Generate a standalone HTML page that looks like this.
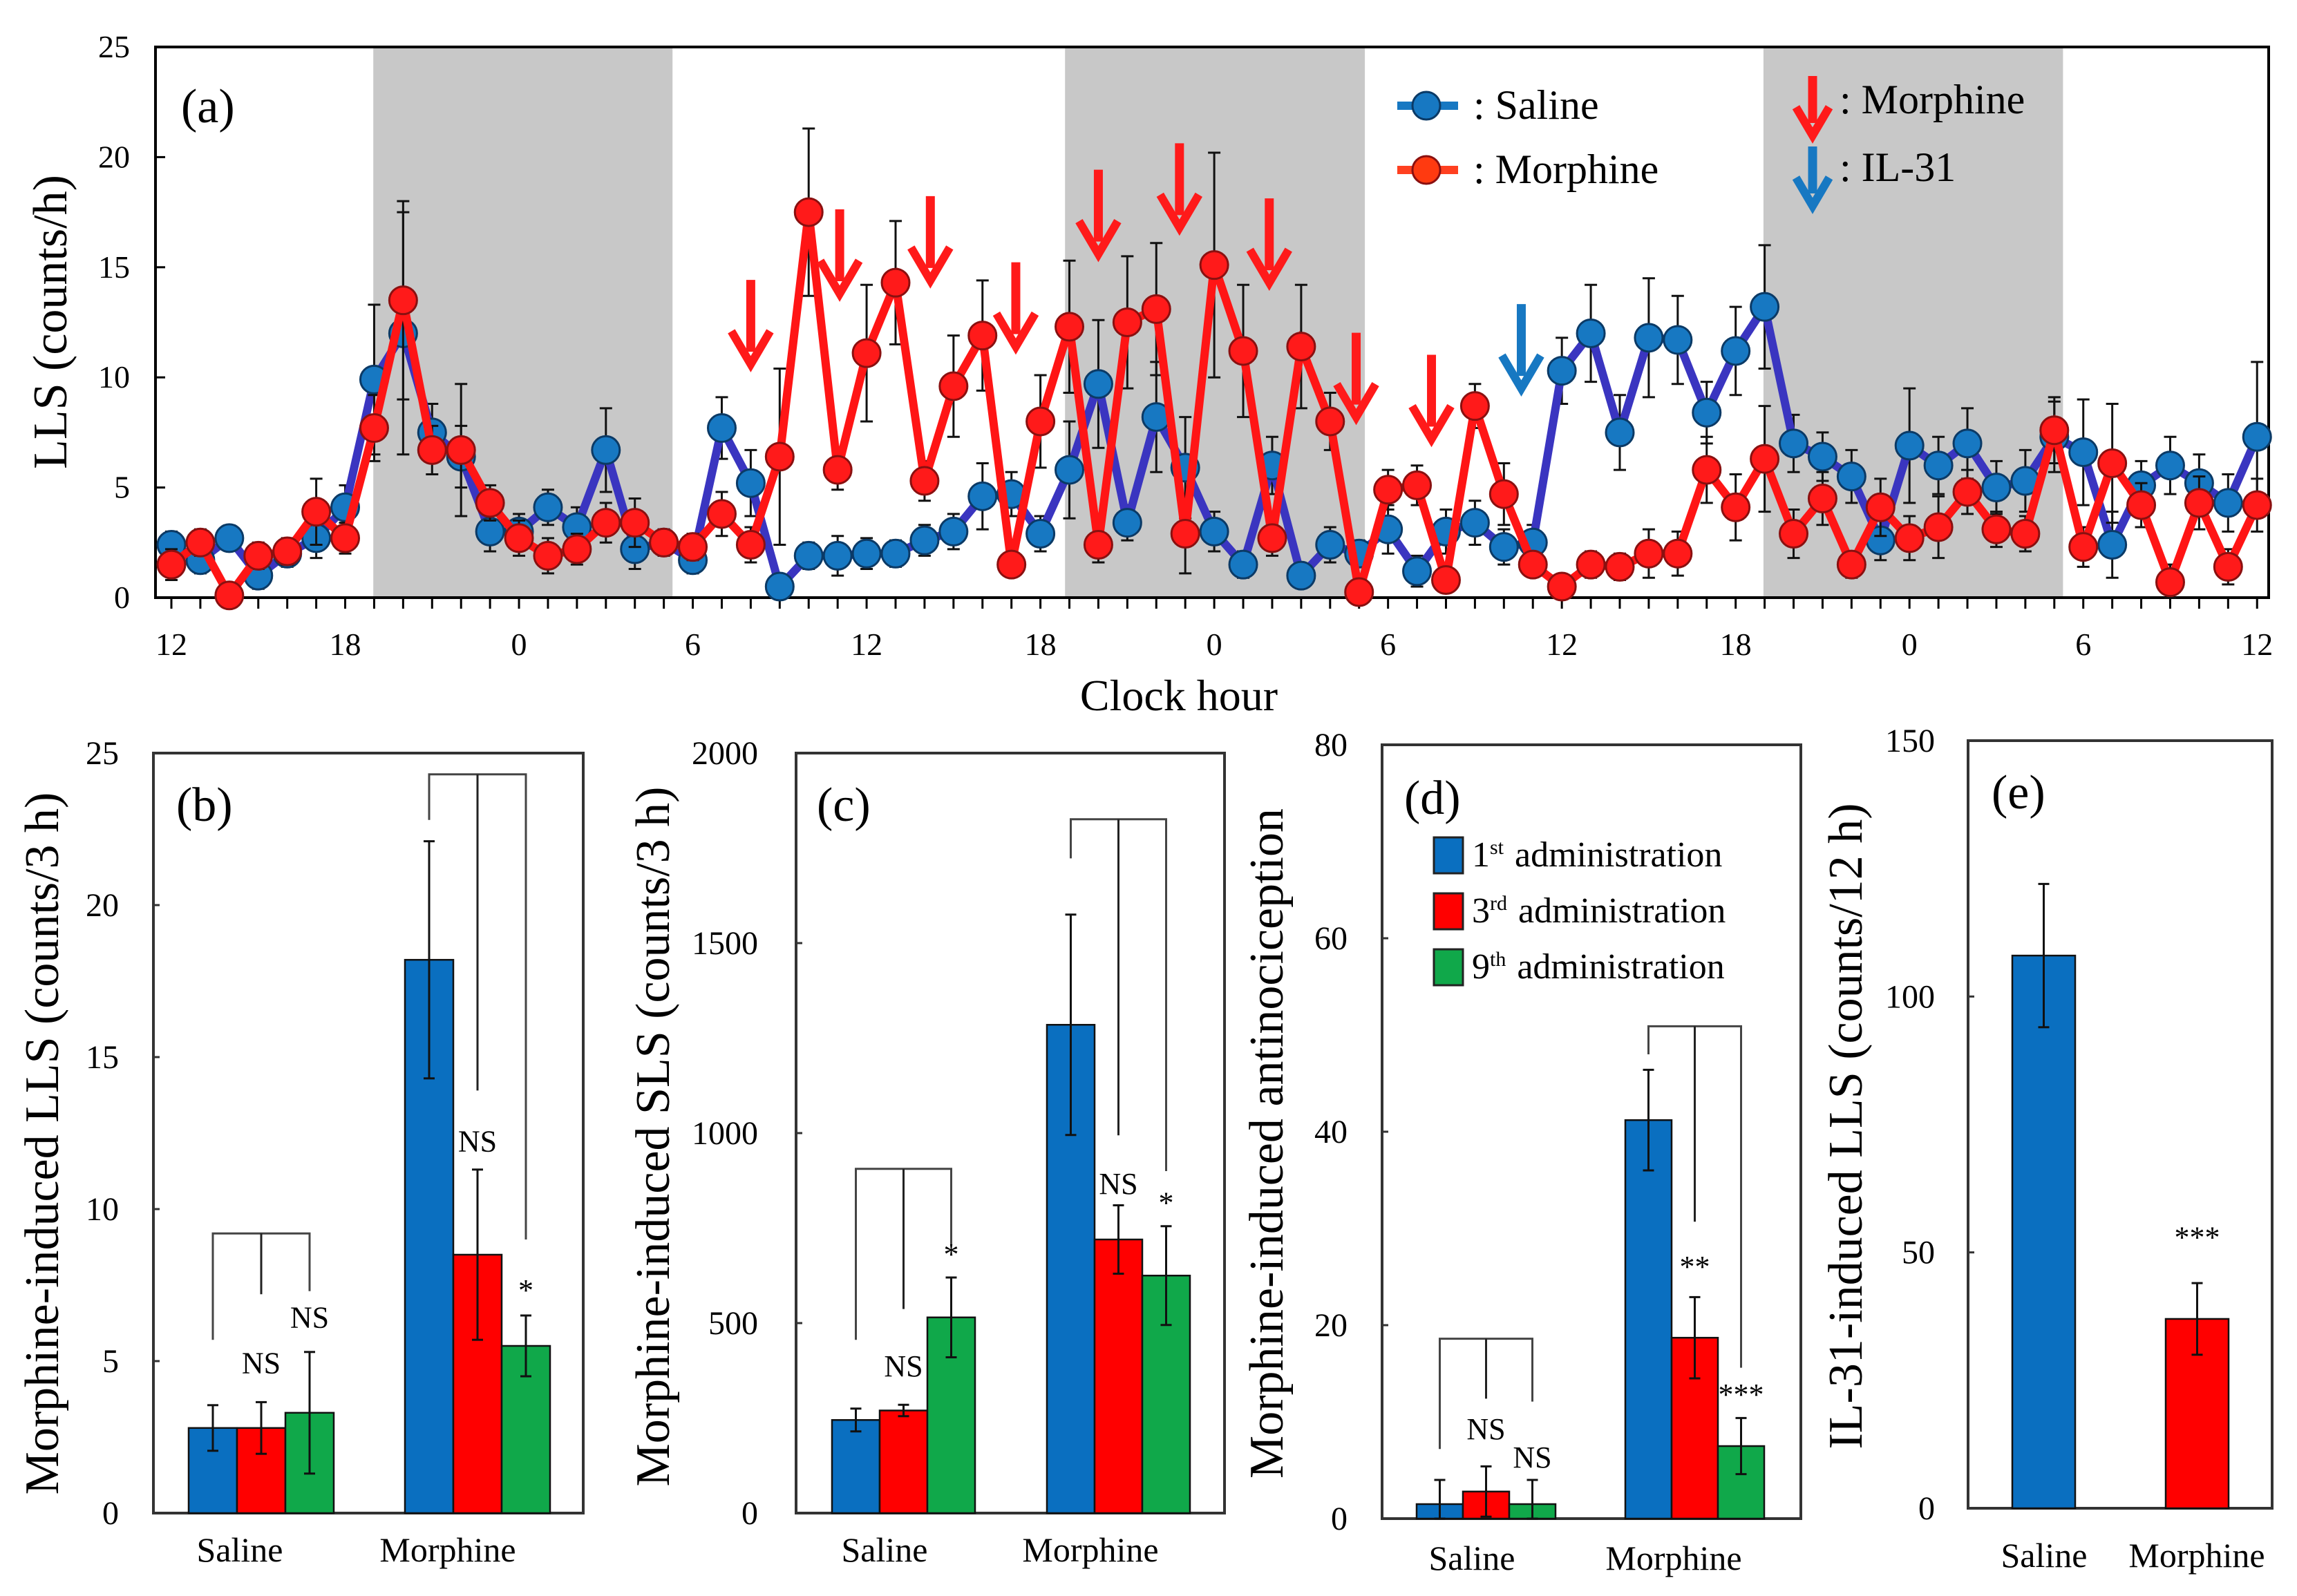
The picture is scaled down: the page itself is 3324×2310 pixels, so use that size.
<!DOCTYPE html>
<html><head><meta charset="utf-8"><style>
html,body{margin:0;padding:0;background:#fff;}
svg{display:block;font-family:"Liberation Serif",serif;}
</style></head><body>
<svg id="fig" width="3324" height="2310" viewBox="0 0 3324 2310" xmlns="http://www.w3.org/2000/svg">
<rect x="0" y="0" width="3324" height="2310" fill="#fff"/>
<g id="panelA"></g>
<g id="panelB"></g>
<g id="panelC"></g>
<g id="panelD"></g>
<g id="panelE"></g>
</svg>
<script>
// ---------- Panel (a) data ----------
const hourTickLabels = ["12","18","0","6","12","18","0","6","12","18","0","6","12"];
const yTicksA = [0,5,10,15,20,25];
const salineLLS = [2.4,1.7,2.7,1.0,2.0,2.7,4.1,9.9,12.0,7.5,6.4,3.0,3.0,4.1,3.2,6.7,2.2,2.5,1.7,7.7,5.2,0.5,1.9,1.9,2.0,2.0,2.6,3.0,4.6,4.7,2.9,5.8,9.7,3.4,8.2,5.9,3.0,1.5,6.0,1.0,2.4,2.0,3.1,1.2,3.0,3.4,2.3,2.5,10.3,12.0,7.5,11.8,11.7,8.4,11.2,13.2,7.0,6.4,5.5,2.6,6.9,6.0,7.0,5.0,5.3,7.3,6.6,2.4,5.1,6.0,5.2,4.3,7.3];
const salineErr = [0.6,0.6,0.5,0.6,0.6,0.9,1.0,3.4,5.5,1.3,1.4,0.9,0.8,0.8,0.9,1.9,0.9,0.6,0.6,1.4,1.5,0.4,0.6,0.9,0.7,0.6,0.7,0.8,1.5,1.0,0.8,2.2,2.9,0.8,2.5,2.3,0.9,0.6,1.3,0.5,0.8,0.6,1.1,0.7,1.0,1.0,0.8,0.8,1.5,2.2,1.7,2.7,2.0,1.4,2.0,2.8,1.3,1.1,1.2,0.9,2.6,1.3,1.6,1.2,1.4,1.6,2.4,1.5,1.1,1.3,1.3,1.3,3.4];
const morphineLLS = [1.5,2.5,0.1,1.9,2.1,3.9,2.7,7.7,13.5,6.7,6.7,4.3,2.7,1.9,2.2,3.4,3.4,2.5,2.3,3.8,2.4,6.4,17.5,5.8,11.1,14.3,5.3,9.6,11.9,1.5,8.0,12.3,2.4,12.5,13.1,2.9,15.1,11.2,2.7,11.4,8.0,0.25,4.9,5.1,0.8,8.7,4.7,1.5,0.5,1.5,1.4,2.0,2.0,5.8,4.1,6.3,2.9,4.5,1.5,4.1,2.7,3.2,4.8,3.1,2.9,7.6,2.3,6.1,4.2,0.7,4.3,1.4,4.2];
const morphineErr = [0.7,0.6,0.3,0.6,0.6,1.5,0.7,1.5,4.5,1.1,3.0,0.8,0.8,0.8,0.7,0.9,1.1,0.5,0.6,1.0,0.8,4.0,3.8,0.9,3.1,2.8,0.9,2.3,2.5,0.4,2.1,3.0,0.8,3.0,3.0,1.8,5.1,3.0,0.8,2.8,1.3,0.5,0.9,0.9,0.5,1.0,1.4,0.5,0.5,0.6,0.6,1.1,1.0,1.5,1.5,2.4,1.1,1.2,0.6,1.3,1.0,1.4,1.0,0.8,0.8,1.5,0.9,2.7,1.0,0.8,1.2,0.8,1.2];
const darkBandsStart = [6.97,30.85,54.96];
const darkBandsEnd = [17.3,41.2,65.3];
const morphineArrowHours = [20.0,23.07,26.2,29.15,32.0,34.8,37.9,40.9,43.5];
const morphineArrowTips = [10.6,13.8,14.4,11.4,15.6,16.8,14.3,8.2,7.2];
const il31ArrowHours = [46.6];
const il31ArrowTips = [9.5];

// ---------- Panel (b) ----------
const groups = ["Saline","Morphine"];
const bSaline = [2.8,2.8,3.3], bSalineErr = [0.75,0.85,2.0];
const bMorphine = [18.2,8.5,5.5], bMorphineErr = [3.9,2.8,1.0];
const bTicks = [0,5,10,15,20,25];
// ---------- Panel (c) ----------
const cSaline = [245,270,515], cSalineErr = [30,15,105];
const cMorphine = [1285,720,625], cMorphineErr = [290,90,130];
const cTicks = [0,500,1000,1500,2000];
// ---------- Panel (d) ----------
const dSaline = [1.5,2.8,1.5], dSalineErr = [2.5,2.6,2.5];
const dMorphine = [41.2,18.7,7.5], dMorphineErr = [5.2,4.2,2.9];
const dTicks = [0,20,40,60,80];
// ---------- Panel (e) ----------
const eValues = [108,37], eErr = [14,7];
const eTicks = [0,50,100,150];

const NS = "http://www.w3.org/2000/svg";
function mk(parent, tag, attrs, txt){
  const e = document.createElementNS(NS, tag);
  for (const k in attrs) e.setAttribute(k, attrs[k]);
  if (txt !== undefined) e.textContent = txt;
  parent.appendChild(e);
  return e;
}
const BLUE="#0a6fc0", RED="#ff0000", GREEN="#10a84a";

// ================= Panel A =================
(function(){
  const g = document.getElementById('panelA');
  const X0=225, X1=3283, Y0=68, Y1=865;
  const xa = i => 248 + i*41.92;
  const ya = v => Y1 - v*(Y1-Y0)/25;
  for (let k=0;k<darkBandsStart.length;k++){
    const r = mk(g,'rect',{x:xa(darkBandsStart[k]),y:Y0,width:xa(darkBandsEnd[k])-xa(darkBandsStart[k]),height:Y1-Y0,fill:"#c8c8c8"});
    
    
  }
  const frame = mk(g,'rect',{x:X0,y:Y0,width:X1-X0,height:Y1-Y0,fill:"none",stroke:"#000","stroke-width":4});
  
  
  yTicksA.forEach(v=>{
    mk(g,'line',{x1:X0,x2:X0+14,y1:ya(v),y2:ya(v),stroke:"#000","stroke-width":3});
    const t = mk(g,'text',{x:188,y:ya(v)+15,"text-anchor":"end","font-size":46},String(v));
    
    
  });
  for (let i=0;i<=72;i++){
    mk(g,'line',{x1:xa(i),x2:xa(i),y1:Y1,y2:Y1+16,stroke:"#000","stroke-width":3});
  }
  hourTickLabels.forEach((lab,k)=>{
    const t = mk(g,'text',{x:xa(k*6),y:948,"text-anchor":"middle","font-size":46},lab);
    
    
  });
  const xt = mk(g,'text',{x:1706,y:1028,"text-anchor":"middle","font-size":64},"Clock hour");
  
  
  const yt = mk(g,'text',{x:0,y:0,"text-anchor":"middle","font-size":70,transform:"translate(96,466) rotate(-90)"},"LLS (counts/h)");
  
  
  const pl = mk(g,'text',{x:262,y:177,"font-size":70},"(a)");
  
  

  function series(vals, errs, lineCol, fill, edge, name){
    const sg = mk(g,'g',{});
    
    
    vals.forEach((v,i)=>{
      const x=xa(i), e=errs[i];
      mk(sg,'line',{x1:x,x2:x,y1:ya(v+e),y2:ya(Math.max(0,v-e)),stroke:"#111","stroke-width":3});
      mk(sg,'line',{x1:x-9,x2:x+9,y1:ya(v+e),y2:ya(v+e),stroke:"#111","stroke-width":3});
      mk(sg,'line',{x1:x-9,x2:x+9,y1:ya(Math.max(0,v-e)),y2:ya(Math.max(0,v-e)),stroke:"#111","stroke-width":3});
    });
    mk(sg,'polyline',{points:vals.map((v,i)=>xa(i)+","+ya(v)).join(" "),fill:"none",stroke:lineCol,"stroke-width":12,"stroke-linejoin":"miter"});
    vals.forEach((v,i)=>{
      const c = mk(sg,'circle',{cx:xa(i),cy:ya(v),r:20,fill:fill,stroke:edge,"stroke-width":3});
      
      
    });
  }
  series(salineLLS, salineErr, "#3a35c0", "#1778c2", "#0b3a66", "saline-series");
  series(morphineLLS, morphineErr, "#ff1515", "#ff1a1a", "#8a1010", "morphine-series");

  function arrow(x, tipY, col, name, len, hw){
    len = len||122; hw = hw||28;
    const a = mk(g,'g',{});
    
    
    mk(a,'line',{x1:x,x2:x,y1:tipY-len,y2:tipY-18,stroke:col,"stroke-width":13});
    mk(a,'polyline',{points:(x-hw)+","+(tipY-hw*1.7)+" "+x+","+tipY+" "+(x+hw)+","+(tipY-hw*1.7),fill:"none",stroke:col,"stroke-width":12});
  }
  morphineArrowHours.forEach((h,k)=>arrow(xa(h), ya(morphineArrowTips[k]), "#ff1a1a", "morphine-arrow"));
  il31ArrowHours.forEach((h,k)=>arrow(xa(h), ya(il31ArrowTips[k]), "#1778c2", "il31-arrow"));

  // legend
  const lg = mk(g,'g',{});
  
  
  mk(lg,'line',{x1:2022,x2:2110,y1:153,y2:153,stroke:"#1778c2","stroke-width":12});
  mk(lg,'circle',{cx:2064,cy:153,r:20,fill:"#1778c2",stroke:"#0b3a66","stroke-width":3});
  const l1 = mk(lg,'text',{x:2132,y:172,"font-size":60},": Saline");
  
  
  mk(lg,'line',{x1:2022,x2:2110,y1:246,y2:246,stroke:"#ff4020","stroke-width":12});
  mk(lg,'circle',{cx:2064,cy:246,r:20,fill:"#ff3a10",stroke:"#8a1010","stroke-width":3});
  const l2 = mk(lg,'text',{x:2132,y:265,"font-size":60},": Morphine");
  
  
  arrow(2623, 196, "#ff1a1a", "legend-morphine-arrow", 86, 24);
  const l3 = mk(lg,'text',{x:2662,y:164,"font-size":60},": Morphine");
  
  
  arrow(2623, 298, "#1778c2", "legend-il31-arrow", 86, 24);
  const l4 = mk(lg,'text',{x:2662,y:262,"font-size":60},": IL-31");
  
  
})();

// ================= Bar panels =================
function barPanel(cfg){
  const g = document.getElementById(cfg.id);
  const {X0,X1,Y0,Y1,max} = cfg;
  const y = v => Y1 - v*(Y1-Y0)/max;
  const fr = mk(g,'rect',{x:X0,y:Y0,width:X1-X0,height:Y1-Y0,fill:"none",stroke:"#333","stroke-width":4});
  
  
  cfg.ticks.forEach(v=>{
    mk(g,'line',{x1:X0,x2:X0+9,y1:y(v),y2:y(v),stroke:"#333","stroke-width":3});
    const t = mk(g,'text',{x:cfg.tickX,y:y(v)+16,"text-anchor":"end","font-size":48},String(v));
    
    
  });
  const tt = mk(g,'text',{x:0,y:0,"text-anchor":"middle","font-size":cfg.titleSize||70,transform:"translate("+cfg.titleX+","+cfg.titleY+") rotate(-90)"},cfg.title);
  
  
  const pl = mk(g,'text',{x:cfg.labelX,y:cfg.labelY,"font-size":70},cfg.label);
  
  
  cfg.groups.forEach((grp,gi)=>{
    const centers=[];
    grp.vals.forEach((v,k)=>{
      const x = grp.x + k*cfg.bw;
      centers.push(x+cfg.bw/2);
      const r = mk(g,'rect',{x:x,y:y(v),width:cfg.bw,height:y(0)-y(v),fill:grp.colors[k],stroke:"#111","stroke-width":2.5});
      
      
      const e = grp.errs[k], cx = x+cfg.bw/2;
      mk(g,'line',{x1:cx,x2:cx,y1:y(v+e),y2:y(Math.max(0,v-e)),stroke:"#111","stroke-width":3});
      mk(g,'line',{x1:cx-8,x2:cx+8,y1:y(v+e),y2:y(v+e),stroke:"#111","stroke-width":3});
      mk(g,'line',{x1:cx-8,x2:cx+8,y1:y(Math.max(0,v-e)),y2:y(Math.max(0,v-e)),stroke:"#111","stroke-width":3});
    });
    if (grp.bracket){
      const b = grp.bracket;
      mk(g,'polyline',{points:centers[0]+","+y(b.legs[0])+" "+centers[0]+","+y(b.top)+" "+centers[centers.length-1]+","+y(b.top)+" "+centers[centers.length-1]+","+y(b.legs[2]),fill:"none",stroke:"#444","stroke-width":3});
      mk(g,'line',{x1:centers[1],x2:centers[1],y1:y(b.top),y2:y(b.legs[1]),stroke:"#222","stroke-width":3});
    }
    (grp.notes||[]).forEach(n=>{
      const t = mk(g,'text',{x:centers[n.bar],y:y(n.at),"text-anchor":"middle","font-size":44},n.text);
      
      
    });
    const cl = mk(g,'text',{x:grp.labelX,y:cfg.catY,"text-anchor":"middle","font-size":50},grp.name);
    
    
  });
}
const three=[BLUE,RED,GREEN];
barPanel({id:'panelB',key:'b',X0:222,X1:844,Y0:1090,Y1:2190,max:25,ticks:bTicks,tickX:172,
  title:"Morphine-induced LLS (counts/3 h)",titleX:84,titleY:1655,label:"(b)",labelX:255,labelY:1188,bw:70,catY:2260,
  groups:[
    {name:groups[0],x:273,vals:bSaline,errs:bSalineErr,colors:three,labelX:347,
     bracket:{top:9.2,legs:[5.7,7.2,7.3]},notes:[{bar:1,at:4.6,text:"NS"},{bar:2,at:6.1,text:"NS"}]},
    {name:groups[1],x:586,vals:bMorphine,errs:bMorphineErr,colors:three,labelX:648,
     bracket:{top:24.3,legs:[22.8,13.9,9.0]},notes:[{bar:1,at:11.9,text:"NS"},{bar:2,at:7.0,text:"*"}]}
  ]});
barPanel({id:'panelC',key:'c',X0:1152,X1:1772,Y0:1090,Y1:2190,max:2000,ticks:cTicks,tickX:1097,
  title:"Morphine-induced SLS (counts/3 h)",titleX:968,titleY:1645,label:"(c)",labelX:1182,labelY:1188,bw:69,catY:2260,
  groups:[
    {name:groups[0],x:1204,vals:cSaline,errs:cSalineErr,colors:three,labelX:1280,
     bracket:{top:906,legs:[456,537,707]},notes:[{bar:1,at:360,text:"NS"},{bar:2,at:655,text:"*"}]},
    {name:groups[1],x:1515,vals:cMorphine,errs:cMorphineErr,colors:three,labelX:1578,
     bracket:{top:1826,legs:[1723,994,900]},notes:[{bar:1,at:840,text:"NS"},{bar:2,at:790,text:"*"}]}
  ]});
barPanel({id:'panelD',key:'d',X0:2000,X1:2606,Y0:1078,Y1:2198,max:80,ticks:dTicks,tickX:1950,
  title:"Morphine-induced antinociception",titleX:1856,titleY:1655,label:"(d)",labelX:2032,labelY:1178,bw:67,catY:2272,
  groups:[
    {name:groups[0],x:2050,vals:dSaline,errs:dSalineErr,colors:three,labelX:2130,
     bracket:{top:18.6,legs:[7.2,12.4,12.1]},notes:[{bar:1,at:8.2,text:"NS"},{bar:2,at:5.3,text:"NS"}]},
    {name:groups[1],x:2352,vals:dMorphine,errs:dMorphineErr,colors:three,labelX:2422,
     bracket:{top:50.9,legs:[48,30.7,15.6]},notes:[{bar:1,at:25.0,text:"**"},{bar:2,at:11.8,text:"***"}]}
  ]});
barPanel({id:'panelE',key:'e',X0:2848,X1:3288,Y0:1072,Y1:2183,max:150,ticks:eTicks,tickX:2800,
  title:"IL-31-induced LLS (counts/12 h)",titleX:2694,titleY:1630,label:"(e)",labelX:2882,labelY:1170,bw:91,catY:2268,
  groups:[
    {name:groups[0],x:2912,vals:[eValues[0]],errs:[eErr[0]],colors:[BLUE],labelX:2958},
    {name:groups[1],x:3134,vals:[eValues[1]],errs:[eErr[1]],colors:[RED],labelX:3179,notes:[{bar:0,at:51,text:"***"}]}
  ]});

// legend for panel d
(function(){
  const g = document.getElementById('panelD');
  const lg = mk(g,'g',{});
  
  
  const items=[["1","st"],["3","rd"],["9","th"]];
  const ys=[1212,1293,1374];
  items.forEach((it,k)=>{
    const sq = mk(lg,'rect',{x:2075,y:ys[k],width:42,height:52,fill:three[k],stroke:"#222","stroke-width":3});
    
    
    const t = mk(lg,'text',{x:2130,y:ys[k]+42,"font-size":52});
    
    
    mk(t,'tspan',{},it[0]);
    mk(t,'tspan',{dy:-18,"font-size":30},it[1]);
    mk(t,'tspan',{dy:18,dx:16},"administration");
  });
})();
</script>
</body></html>
